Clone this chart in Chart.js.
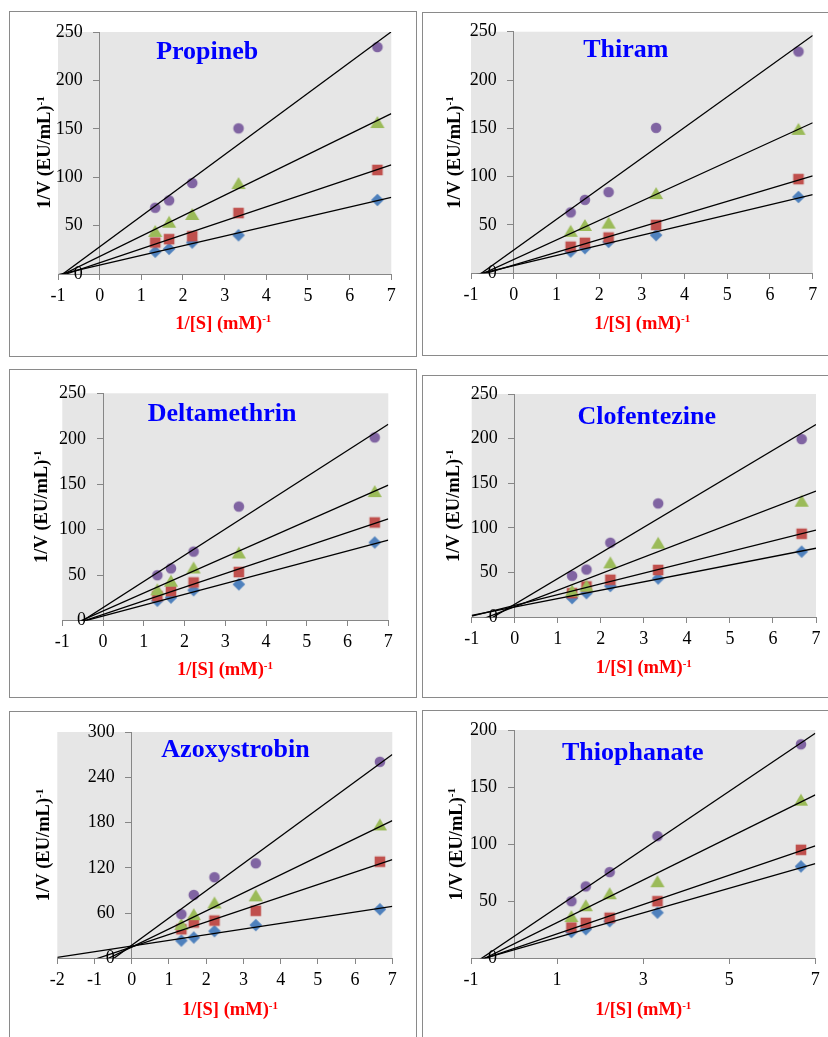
<!DOCTYPE html>
<html><head><meta charset="utf-8">
<script src="https://cdn.jsdelivr.net/npm/chart.js@4.4.0/dist/chart.umd.min.js"></script>
<style>
html,body{margin:0;padding:0;background:#fff;width:828px;height:1037px;overflow:hidden;position:relative}
.panel{position:absolute;border:1px solid #8a8a8a;box-sizing:border-box}
canvas{position:absolute}
</style></head><body>
<script>
// ---------- DATA ----------
const invS = [1.333, 1.667, 2.222, 3.333, 6.667];

const propinebBlue   = [23, 26, 32.5, 40, 76.5];
const propinebRed    = [32.5, 36, 39, 63, 107.5];
const propinebGreen  = [44.5, 54, 62, 94, 157];
const propinebPurple = [68.5, 76, 94, 150.5, 234.5];

const thiramBlue   = [22.5, 26, 32.5, 39.5, 79];
const thiramRed    = [27.5, 31.5, 37, 50, 97.5];
const thiramGreen  = [44, 50, 52.5, 83, 149.5];
const thiramPurple = [63, 76, 84, 150.5, 229.5];

const deltamethrinBlue   = [22, 25.5, 33.5, 40, 86];
const deltamethrinRed    = [27, 32.5, 42, 53.5, 108];
const deltamethrinGreen  = [34.5, 44, 58.5, 75, 142.5];
const deltamethrinPurple = [50, 57.5, 76, 125.5, 201.5];

const clofentezineBlue   = [21.5, 27, 35, 43.5, 73.5];
const clofentezineRed    = [27, 34.5, 42, 53, 93.5];
const clofentezineGreen  = [30, 35.5, 61.5, 83.5, 130.5];
const clofentezinePurple = [46.5, 53.5, 83.5, 127.5, 199.5];

const azoxystrobinBlue   = [23.5, 27.5, 36, 44, 65];
const azoxystrobinRed    = [38.5, 47.5, 50, 63, 128];
const azoxystrobinGreen  = [45.5, 58.5, 74, 83.5, 177.5];
const azoxystrobinPurple = [58.5, 84, 107.5, 126, 260.5];

const thiophanateBlue   = [23, 25.5, 32.5, 40, 80.5];
const thiophanateRed    = [27, 31, 35.5, 50, 95];
const thiophanateGreen  = [37, 46.5, 57, 67.5, 139];
const thiophanatePurple = [50, 63, 75.5, 107, 187.5];

const xTicksUnit = [-1, 0, 1, 2, 3, 4, 5, 6, 7];
const xTicksAzo  = [-2, -1, 0, 1, 2, 3, 4, 5, 6, 7];
const xTicksThio = [-1, 1, 3, 5, 7];
const yTicks250  = [0, 50, 100, 150, 200, 250];
const yTicks300  = [0, 60, 120, 180, 240, 300];
const yTicks200  = [0, 50, 100, 150, 200];

const panelNames = ['Propineb', 'Thiram', 'Deltamethrin', 'Clofentezine', 'Azoxystrobin', 'Thiophanate'];
const yAxisTitle = '1/V (EU/mL)';
const xAxisTitle = '1/[S] (mM)';
const unitSup = '-1';

const panelSeries = [
  [propinebBlue, propinebRed, propinebGreen, propinebPurple],
  [thiramBlue, thiramRed, thiramGreen, thiramPurple],
  [deltamethrinBlue, deltamethrinRed, deltamethrinGreen, deltamethrinPurple],
  [clofentezineBlue, clofentezineRed, clofentezineGreen, clofentezinePurple],
  [azoxystrobinBlue, azoxystrobinRed, azoxystrobinGreen, azoxystrobinPurple],
  [thiophanateBlue, thiophanateRed, thiophanateGreen, thiophanatePurple]
];
const panelXTicks = [xTicksUnit, xTicksUnit, xTicksUnit, xTicksUnit, xTicksAzo, xTicksThio];
const panelYTicks = [yTicks250, yTicks250, yTicks250, yTicks250, yTicks300, yTicks200];

// ---------- LAYOUT (page pixels) ----------
const layouts = [
  {box:[9,11,417,357],    area:[58,32,391.3,274],      titleAt:[207.2,59.3], xTitleAt:[223.3,328.5], yTitleAt:[50,152.5]},
  {box:[422,12,850,356],  area:[471,31.7,812.7,273.3], titleAt:[625.8,57.3], xTitleAt:[642.2,328.5], yTitleAt:[459.7,152.5]},
  {box:[9,369,417,698],   area:[62.3,393.3,388.3,620.7], titleAt:[222,421],  xTitleAt:[225,675],     yTitleAt:[47.4,506.7]},
  {box:[422,375,850,698], area:[471.7,394,816,617.3],  titleAt:[646.7,424],  xTitleAt:[643.8,673.3], yTitleAt:[459,505.8]},
  {box:[9,711,417,1060],  area:[57.3,732,392.3,958.3], titleAt:[235.5,757.3], xTitleAt:[230,1015],   yTitleAt:[49,845]},
  {box:[422,710,850,1060],area:[471,730,815.3,958.3],  titleAt:[632.8,760],  xTitleAt:[643.3,1015],  yTitleAt:[461.7,844.2]}
];
const seriesColors = ['#4F81BD', '#C0504D', '#9BBB59', '#8064A2'];
const seriesShapes = ['diamond', 'square', 'triangle', 'circle'];
const tickFont = {family: '"Liberation Serif", "Times New Roman", serif', size: 18};
const axisGray = '#868686';
const yLabelGap = 17;

function makeMarker(shape, color) {
  const c = document.createElement('canvas');
  c.width = 18; c.height = 18;
  const g = c.getContext('2d');
  const m = 9;
  g.fillStyle = color;
  g.beginPath();
  if (shape === 'diamond') { g.moveTo(m, m - 6.3); g.lineTo(m + 6.3, m); g.lineTo(m, m + 6.3); g.lineTo(m - 6.3, m); }
  else if (shape === 'square') { g.rect(m - 5.3, m - 5.3, 10.6, 10.6); }
  else if (shape === 'triangle') { g.moveTo(m, m - 6.1); g.lineTo(m + 7.1, m + 6.1); g.lineTo(m - 7.1, m + 6.1); }
  else { g.arc(m, m, 5.3, 0, Math.PI * 2); }
  g.closePath();
  g.fill();
  return c;
}

function regression(xs, ys) {
  const n = xs.length;
  const mx = xs.reduce((a, b) => a + b, 0) / n;
  const my = ys.reduce((a, b) => a + b, 0) / n;
  let sxx = 0, sxy = 0;
  for (let i = 0; i < n; i++) { sxx += (xs[i] - mx) ** 2; sxy += (xs[i] - mx) * (ys[i] - my); }
  const b = sxy / sxx;
  return {a: my - b * mx, b};
}

function drawSup(ctx, main, sup, cx, by, color) {
  ctx.fillStyle = color;
  ctx.textAlign = 'left';
  ctx.textBaseline = 'alphabetic';
  const mainFont = 'bold 18.5px "Liberation Serif", serif';
  const supFont = 'bold 11px "Liberation Serif", serif';
  ctx.font = mainFont; const w1 = ctx.measureText(main).width;
  ctx.font = supFont; const w2 = ctx.measureText(sup).width;
  const x0 = cx - (w1 + w2) / 2;
  ctx.font = mainFont; ctx.fillText(main, x0, by);
  ctx.font = supFont; ctx.fillText(sup, x0 + w1, by - 6.5);
}

const decorPlugin = {
  id: 'panelDecor',
  beforeDraw(chart, args, o) {
    const {ctx, chartArea: a} = chart;
    ctx.save();
    ctx.fillStyle = '#e6e6e6';
    ctx.fillRect(a.left, a.top, a.right - a.left, a.bottom - a.top);
    ctx.restore();
  },
  afterDraw(chart, args, o) {
    const ctx = chart.ctx;
    ctx.save();
    ctx.fillStyle = '#0000ff';
    ctx.font = 'bold 26px "Liberation Serif", serif';
    ctx.textAlign = 'center';
    ctx.textBaseline = 'alphabetic';
    ctx.fillText(o.title, o.titleAt[0] - o.ox, o.titleAt[1] - o.oy);
    drawSup(ctx, xAxisTitle, unitSup, o.xTitleAt[0] - o.ox, o.xTitleAt[1] - o.oy, '#ff0000');
    ctx.translate(o.yTitleAt[0] - o.ox, o.yTitleAt[1] - o.oy);
    ctx.rotate(-Math.PI / 2);
    drawSup(ctx, yAxisTitle, unitSup, 0, 0, '#000000');
    ctx.restore();
  }
};

layouts.forEach((L, p) => {
  const div = document.createElement('div');
  div.className = 'panel';
  div.style.left = L.box[0] + 'px'; div.style.top = L.box[1] + 'px';
  div.style.width = (L.box[2] - L.box[0]) + 'px'; div.style.height = (L.box[3] - L.box[1]) + 'px';
  document.body.appendChild(div);

  const cl = L.box[0] + 1, ct = L.box[1] + 1;
  const cw = Math.round(Math.min(L.box[2] - 1, 828) - cl);
  const ch = Math.round(Math.min(L.box[3] - 1, 1037) - ct);
  const cv = document.createElement('canvas');
  cv.width = cw; cv.height = ch;
  cv.style.left = cl + 'px'; cv.style.top = ct + 'px';
  cv.style.width = cw + 'px'; cv.style.height = ch + 'px';
  document.body.appendChild(cv);

  const xt = panelXTicks[p], yt = panelYTicks[p];
  const xMin = xt[0], xMax = xt[xt.length - 1];
  const yMin = yt[0], yMax = yt[yt.length - 1];
  const [aL, aT, aR, aB] = L.area;
  const axisPix = aL + (0 - xMin) / (xMax - xMin) * (aR - aL);
  const labelVal = xMin + (axisPix - yLabelGap - aL) / (aR - aL) * (xMax - xMin);

  const series = panelSeries[p];
  const lineSets = [];
  const pointSets = [];
  for (let s = 3; s >= 0; s--) {
    const ys = series[s];
    const r = regression(invS, ys);
    lineSets.push({
      type: 'line',
      data: [{x: xMin, y: r.a + r.b * xMin}, {x: xMax, y: r.a + r.b * xMax}],
      borderColor: '#000', borderWidth: 1.3, pointRadius: 0, tension: 0, fill: false
    });
    pointSets.push({
      type: 'scatter',
      data: invS.map((x, i) => ({x, y: ys[i]})),
      pointStyle: makeMarker(seriesShapes[s], seriesColors[s]),
      pointRadius: 8, showLine: false, clip: false
    });
  }

  const setTicks = arr => axis => { axis.ticks = arr.map(v => ({value: v})); };

  new Chart(cv, {
    type: 'scatter',
    data: {datasets: lineSets.concat(pointSets)},
    options: {
      responsive: false, animation: false, events: [],
      layout: {padding: {left: aL - cl, top: aT - ct, right: cl + cw - aR, bottom: ct + ch - aB}},
      plugins: {
        legend: {display: false}, tooltip: {enabled: false},
        panelDecor: {title: panelNames[p], titleAt: L.titleAt, xTitleAt: L.xTitleAt, yTitleAt: L.yTitleAt, ox: cl, oy: ct}
      },
      scales: {
        x: {
          type: 'linear', min: xMin, max: xMax, position: {y: yMin},
          afterBuildTicks: setTicks(xt),
          grid: {display: true, drawOnChartArea: false, drawTicks: true, tickLength: 5, color: axisGray, lineWidth: 1},
          border: {display: true, color: axisGray, width: 1},
          ticks: {font: tickFont, color: '#000', padding: 6, maxRotation: 0, autoSkip: false}
        },
        y: {
          type: 'linear', min: yMin, max: yMax, position: {x: 0},
          afterBuildTicks: setTicks(yt),
          grid: {display: true, drawOnChartArea: false, drawTicks: true, tickLength: 6, color: axisGray, lineWidth: 1},
          border: {display: true, color: axisGray, width: 1},
          ticks: {display: false}
        },
        y2: {
          axis: 'y', type: 'linear', min: yMin, max: yMax, position: {x: labelVal},
          afterBuildTicks: setTicks(yt),
          grid: {display: false, drawTicks: false},
          border: {display: false},
          ticks: {font: tickFont, color: '#000', padding: 0, autoSkip: false}
        }
      }
    },
    plugins: [decorPlugin]
  });
});
</script>
</body></html>
